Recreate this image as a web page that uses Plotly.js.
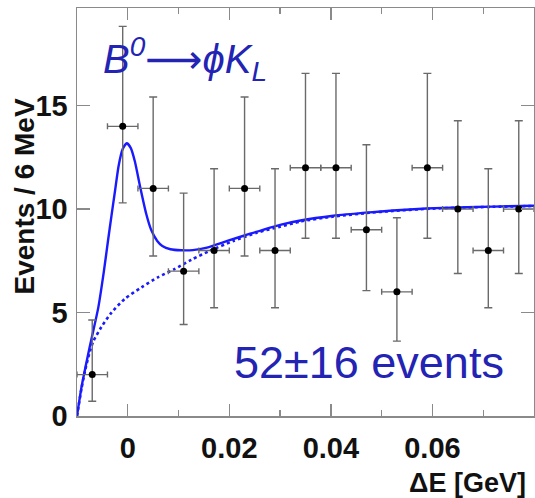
<!DOCTYPE html>
<html>
<head>
<meta charset="utf-8">
<script src="https://cdn.plot.ly/plotly-3.0.1.min.js"></script>
<style>html,body{margin:0;padding:0;background:#fff}#chart{width:535px;height:498px}</style>
</head>
<body>
<div id="chart"></div>
<script>
// Bin centres (6 MeV bins) and event counts
const binCenters = [-0.007, -0.001, 0.005, 0.011, 0.017, 0.023, 0.029, 0.035, 0.041, 0.047, 0.053, 0.059, 0.065, 0.071, 0.077];
const counts     = [2, 14, 11, 7, 8, 11, 8, 12, 12, 9, 6, 12, 10, 8, 10];
const errUp      = [2.64, 4.83, 4.42, 3.77, 3.95, 4.42, 3.95, 4.56, 4.56, 4.11, 3.58, 4.56, 4.27, 3.95, 4.27];
const errDown    = [1.29, 3.70, 3.27, 2.58, 2.77, 3.27, 2.77, 3.41, 3.41, 2.94, 2.38, 3.41, 3.11, 2.77, 3.11];
const binHalfWidth = [0.003, 0.003, 0.003, 0.003, 0.003, 0.003, 0.003, 0.003, 0.003, 0.003, 0.003, 0.003, 0.003, 0.003, 0.003];

// Background (dotted) curve
const bgX = [-0.01, -0.0097, -0.0091, -0.0084, -0.0076, -0.0068, -0.0052, -0.0032, -0.0006, 0.0027, 0.0059, 0.0092, 0.0125, 0.0163, 0.0208, 0.0254, 0.030, 0.034, 0.0405, 0.0476, 0.0522, 0.0588, 0.0653, 0.0718, 0.08];
const bgY = [0, 0.45, 1.35, 2.2, 3.0, 3.6, 4.3, 5.0, 5.66, 6.22, 6.7, 7.1, 7.55, 8.0, 8.46, 8.86, 9.15, 9.4, 9.64, 9.82, 9.91, 10.01, 10.07, 10.11, 10.15];

// Total fit (solid) curve
const fitX = [-0.01, -0.0091, -0.0075, -0.0058, -0.0047, -0.0039, -0.0032, -0.0025, -0.0018, -0.001, -0.0002, 0.0006, 0.0014, 0.0025, 0.0036, 0.0046, 0.0058, 0.0068, 0.0084, 0.0105, 0.0128, 0.0156, 0.0196, 0.0241, 0.030, 0.034, 0.0405, 0.0476, 0.0522, 0.0588, 0.0653, 0.0718, 0.08];
const fitY = [0, 1.41, 3.33, 5.25, 7.0, 8.46, 9.7, 10.9, 12.1, 12.9, 13.18, 12.95, 12.3, 11.0, 9.8, 9.0, 8.46, 8.22, 8.06, 8.01, 8.02, 8.14, 8.46, 8.81, 9.24, 9.45, 9.68, 9.84, 9.93, 10.03, 10.08, 10.12, 10.16];

const xTickVals = [0, 0.02, 0.04, 0.06];
const xTickText = ['0', '0.02', '0.04', '0.06'];
const yTickVals = [0, 5, 10, 15];
const yTickText = ['0', '5', '10', '15'];

const curveColor = '#1a1aff';
const textColor = '#2323b4';
const axisColor = '#8a8a8a';

const traces = [
  {
    x: bgX, y: bgY, type: 'scatter', mode: 'lines',
    line: {color: curveColor, width: 2.6, dash: 'dot', shape: 'spline', smoothing: 0.6},
    hoverinfo: 'skip'
  },
  {
    x: fitX, y: fitY, type: 'scatter', mode: 'lines',
    line: {color: curveColor, width: 2.4, shape: 'spline', smoothing: 0.6},
    hoverinfo: 'skip'
  },
  {
    x: binCenters, y: counts, type: 'scatter', mode: 'markers',
    marker: {color: '#000', size: 7},
    error_y: {type: 'data', symmetric: false, array: errUp, arrayminus: errDown, color: '#6a6a6a', thickness: 1.4, width: 4},
    error_x: {type: 'data', array: binHalfWidth, color: '#6a6a6a', thickness: 1.4, width: 3}
  }
];

const tickFont = {family: 'Liberation Sans, Arial, sans-serif', size: 29, color: '#111', weight: 'bold'};

const layout = {
  width: 535, height: 498,
  margin: {l: 77, r: 1, t: 8, b: 82},
  paper_bgcolor: '#fff', plot_bgcolor: '#fff',
  showlegend: false,
  xaxis: {
    range: [-0.01, 0.08],
    tickvals: xTickVals, ticktext: xTickText,
    ticks: 'inside', ticklen: 12, tickwidth: 1.3, tickcolor: axisColor,
    minor: {dtick: 0.01, tick0: 0, ticks: 'inside', ticklen: 6, tickwidth: 1.3, tickcolor: axisColor, showgrid: false},
    showline: true, linecolor: axisColor, linewidth: 1.5, mirror: 'ticks',
    showgrid: false, zeroline: false,
    tickfont: tickFont, ticklabelstandoff: 6
  },
  yaxis: {
    range: [0, 19.72],
    tickvals: yTickVals, ticktext: yTickText,
    ticks: 'inside', ticklen: 13, tickwidth: 1.3, tickcolor: axisColor,
    showline: true, linecolor: axisColor, linewidth: 1.5, mirror: 'ticks',
    showgrid: false, zeroline: false,
    tickfont: tickFont, ticklabelstandoff: 2
  },
  annotations: [
    {
      xref: 'paper', yref: 'paper', x: 1, y: -0.163, xanchor: 'right', yanchor: 'middle',
      xshift: -6,
      text: 'ΔE [GeV]', showarrow: false,
      font: {family: 'Liberation Sans, Arial, sans-serif', size: 27, color: '#111', weight: 'bold'}
    },
    {
      xref: 'paper', yref: 'paper', x: 0, y: 0.538, xanchor: 'center', yanchor: 'middle',
      xshift: -53, textangle: -90,
      text: 'Events / 6 MeV', showarrow: false,
      font: {family: 'Liberation Sans, Arial, sans-serif', size: 28, color: '#111', weight: 'bold'}
    },
    {
      xref: 'paper', yref: 'paper', x: 0.052, y: 0.875, xanchor: 'left', yanchor: 'middle',
      text: '<i>B</i><sup><i>0</i></sup><span style="font-family:DejaVu Sans">⟶</span><i>ϕK</i><sub><i>L</i></sub>', showarrow: false,
      font: {family: 'Liberation Sans, Arial, sans-serif', size: 40, color: textColor}
    },
    {
      xref: 'paper', yref: 'paper', x: 0.638, y: 0.13, xanchor: 'center', yanchor: 'middle',
      text: '52±16 events', showarrow: false,
      font: {family: 'Liberation Sans, Arial, sans-serif', size: 45, color: textColor}
    }
  ]
};

Plotly.newPlot('chart', traces, layout, {displayModeBar: false, staticPlot: true});
</script>
</body>
</html>
